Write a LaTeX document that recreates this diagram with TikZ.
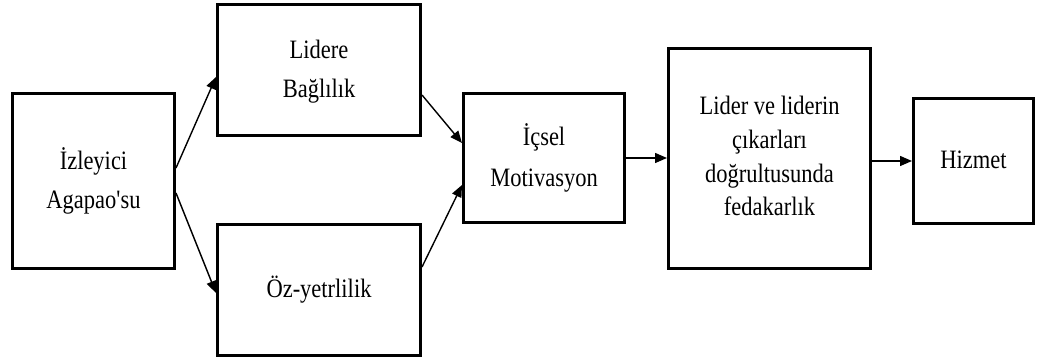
\documentclass[tikz,border=0pt]{standalone}
\usepackage{fontspec}
\setmainfont{Liberation Serif}
\usetikzlibrary{arrows.meta}
\newcommand{\mytxt}[2][33pt]{\scalebox{1}[1.18]{\fontsize{22.5pt}{#1}\selectfont\begin{tabular}{@{}c@{}}#2\end{tabular}}}
\begin{document}
\begin{tikzpicture}[x=1pt,y=-1pt,
  box/.style={draw=black,line width=3pt,inner sep=0pt,align=center,fill=white},
  conn/.style={line width=1.4pt,-{Triangle[length=12pt,width=10pt]}}]
\useasboundingbox[fill=white] (0,0) rectangle (1039,363);
\node[box,minimum width=162pt,minimum height=175pt] (A) at (93.5,181) {\mytxt{İzleyici\\Agapao\textquotesingle su}};
\node[box,minimum width=203pt,minimum height=131pt] (B) at (319,70) {\mytxt{Lidere\\Bağlılık}};
\node[box,minimum width=203pt,minimum height=131pt] (C) at (319,290) {\mytxt{Öz-yetrlilik}};
\node[box,minimum width=161pt,minimum height=129pt] (D) at (544,158) {\mytxt[35pt]{İçsel\\Motivasyon}};
\node[box,minimum width=202pt,minimum height=220pt] (E) at (769.5,158.5) {\mytxt[28.5pt]{Lider ve liderin\\çıkarları\\doğrultusunda\\fedakarlık}};
\node[box,minimum width=120pt,minimum height=125pt] (F) at (973.5,161) {\mytxt{Hizmet}};
\draw[conn] ([yshift=13pt]A.east) -- ([yshift=-7pt]B.west);
\draw[conn] ([yshift=-12pt]A.east) -- ([yshift=-3pt]C.west);
\draw[conn] ([yshift=-25pt]B.east) -- ([yshift=15pt]D.west);
\draw[conn] ([yshift=23pt]C.east) -- ([yshift=-27pt]D.west);
\draw[conn] (D.east) -- (D.east -| E.west);
\draw[conn] (E.east |- F.west) -- (F.west);
\end{tikzpicture}
\end{document}
